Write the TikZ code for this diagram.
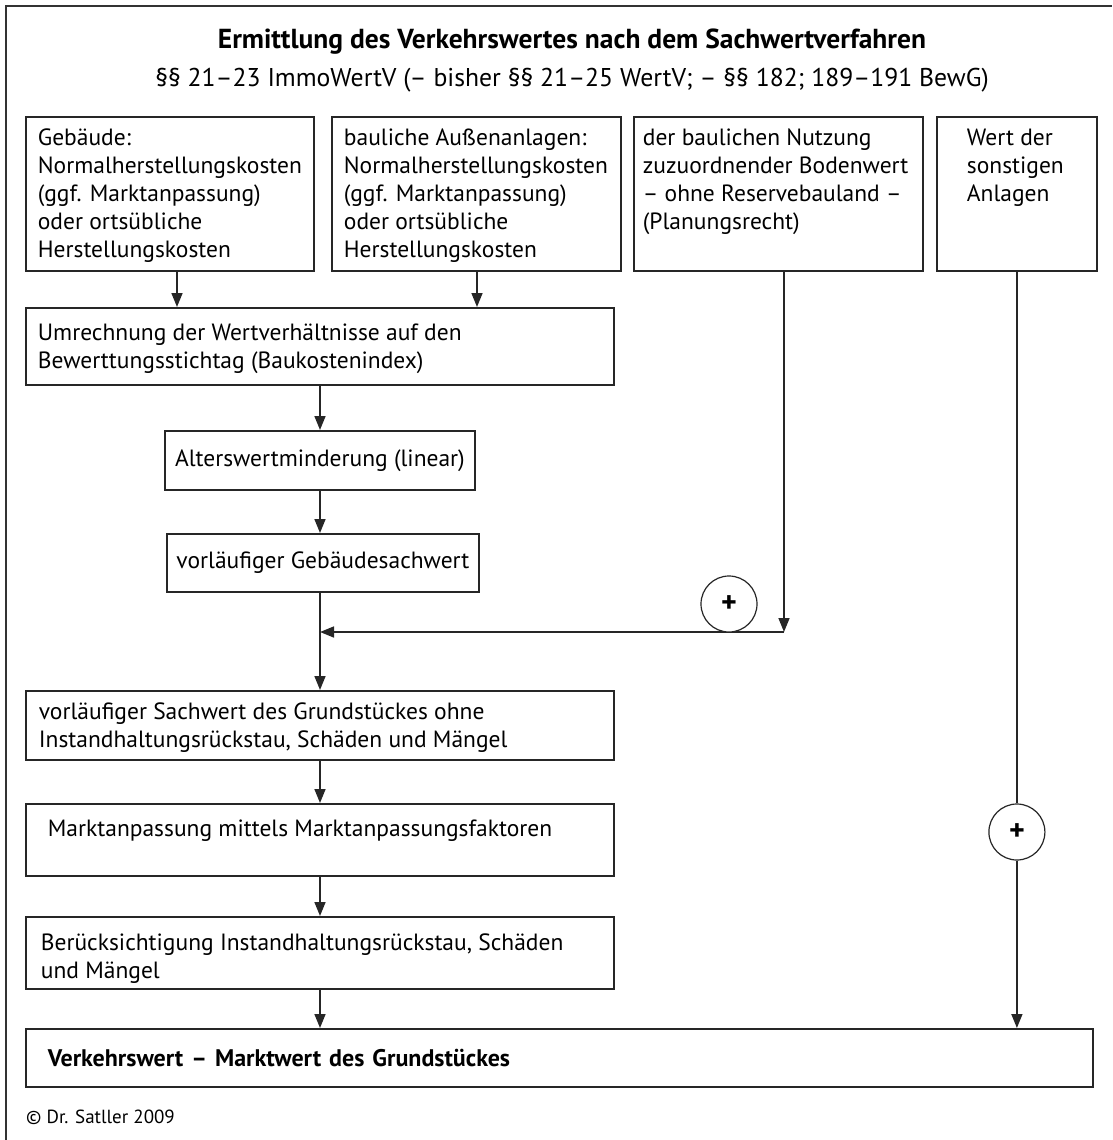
\documentclass[tikz,border=0pt]{standalone}
\usepackage{fontspec}
\setmainfont{PT Sans}
\usetikzlibrary{arrows.meta}
\tikzset{
  bx/.style={draw=black!85, line width=1.8pt, anchor=north west, inner sep=0pt, align=left},
  arr/.style={line width=1.6pt, draw=black!85, -{Triangle[length=14pt,width=11pt]}},
  ln/.style={line width=1.6pt, draw=black!85},
  plus/.style={circle, draw=black!85, line width=1.2pt, minimum size=56pt, inner sep=0pt, fill=white, font=\fontsize{30}{30}\selectfont\bfseries},
  frame/.style={line width=2pt, draw=black!80}
}
\newcommand{\bt}[3]{\parbox[c][#2pt][t]{#1pt}{\raggedright\strut #3}}
\begin{document}
\begin{tikzpicture}[x=1pt,y=-1pt]
\useasboundingbox (0,0) rectangle (1112,1140);
\fontsize{23.5}{28}\selectfont
% frame
\draw[frame] (6,1140) -- (6,6) -- (1112,6);
% titles
\node[font=\fontsize{27.5}{30}\selectfont\bfseries] (t1) at (572,42) {Ermittlung des Verkehrswertes nach dem Sachwertverfahren};
\node[font=\fontsize{25.7}{30}\selectfont] (t2) at (572,80) {§§ 21–23 ImmoWertV (– bisher §§ 21–25 WertV; – §§ 182; 189–191 BewG)};
% top boxes
\node[bx, inner xsep=12pt, inner ysep=9pt] (b1) at (25,116) {\bt{264}{136}{Gebäude:\\Normalherstellungskosten\\(ggf. Marktanpassung)\\oder ortsübliche\\Herstellungskosten}};
\node[bx, inner xsep=12pt, inner ysep=9pt] (b2) at (331,116) {\bt{265}{136}{bauliche Außenanlagen:\\Normalherstellungskosten\\(ggf. Marktanpassung)\\oder ortsübliche\\Herstellungskosten}};
\node[bx, inner xsep=9pt, inner ysep=9pt] (b3) at (633,116) {\bt{271}{136}{der baulichen Nutzung\\zuzuordnender Bodenwert\\– ohne Reservebauland –\\(Planungsrecht)}};
\node[bx, inner xsep=30pt, inner ysep=9pt] (b4) at (936,116) {\bt{100}{136}{Wert der\\sonstigen\\Anlagen}};
% main column
\node[bx, inner xsep=12pt, inner ysep=13pt] (u) at (25,307) {\bt{564}{51}{Umrechnung der Wertverhältnisse auf den\\Bewerttungsstichtag (Baukostenindex)}};
\node[bx, minimum width=310pt, minimum height=59pt, inner xsep=8pt] (a) at (164,430) {Alterswertminderung (linear)};
\node[bx, minimum width=312pt, minimum height=58pt, inner xsep=8pt] (g) at (166,533) {vorläufiger Gebäudesachwert};
\node[bx, inner xsep=13pt, inner ysep=9pt] (s) at (25,690) {\bt{562}{51}{vorläufiger Sachwert des Grundstückes ohne\\Instandhaltungsrückstau, Schäden und Mängel}};
\node[bx, inner xsep=22pt, inner ysep=13pt] (m) at (25,803) {\bt{544}{46}{Marktanpassung mittels Marktanpassungsfaktoren}};
\node[bx, inner xsep=15pt, inner ysep=14pt] (r) at (25,916) {\bt{558}{44}{Berücksichtigung Instandhaltungsrückstau, Schäden\\und Mängel}};
\node[bx, minimum width=1067pt, minimum height=58pt, inner xsep=22pt, text width=1023pt, font=\fontsize{24}{28}\selectfont\bfseries] (v) at (25,1028) {Verkehrswert – Marktwert des Grundstückes};
% copyright
\node[anchor=west, inner sep=0pt, font=\fontsize{19}{22}\selectfont] (c) at (26,1117) {© Dr. Satller 2009};
% connectors
\draw[arr] (177,0 |- b1.south) -- (177,0 |- u.north);
\draw[arr] (477,0 |- b2.south) -- (477,0 |- u.north);
\draw[arr] (320,0 |- u.south) -- (320,0 |- a.north);
\draw[arr] (320,0 |- a.south) -- (320,0 |- g.north);
\coordinate (k) at (784,632);
\coordinate (j) at (320,632);
\draw[arr] (784,0 |- b3.south) -- (k);
\draw[arr] (k) -- (j);
\draw[arr] (320,0 |- g.south) -- (320,0 |- s.north);
\node[plus] (p1) at (729,604) {+};
\draw[arr] (320,0 |- s.south) -- (320,0 |- m.north);
\draw[arr] (320,0 |- m.south) -- (320,0 |- r.north);
\draw[arr] (320,0 |- r.south) -- (320,0 |- v.north);
\node[plus] (p2) at (b4.south |- 0,832) {+};
\draw[ln] (b4.south) -- (p2.north);
\draw[arr] (p2.south) -- (b4.south |- v.north);
\end{tikzpicture}
\end{document}
